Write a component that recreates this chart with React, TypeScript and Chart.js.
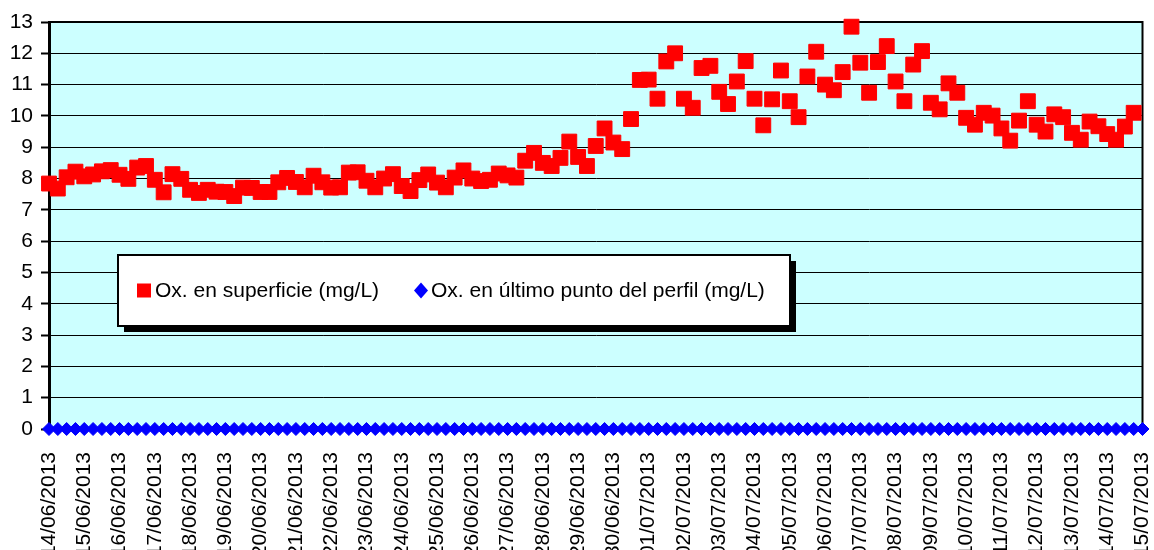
import React, { useEffect, useRef } from 'react';
import { Chart, registerables } from 'chart.js';

Chart.register(...registerables);

// Tick labels (one every 4 samples)
const dates = [
  '14/06/2013', '15/06/2013', '16/06/2013', '17/06/2013', '18/06/2013', '19/06/2013',
  '20/06/2013', '21/06/2013', '22/06/2013', '23/06/2013', '24/06/2013', '25/06/2013',
  '26/06/2013', '27/06/2013', '28/06/2013', '29/06/2013', '30/06/2013', '01/07/2013',
  '02/07/2013', '03/07/2013', '04/07/2013', '05/07/2013', '06/07/2013', '07/07/2013',
  '08/07/2013', '09/07/2013', '10/07/2013', '11/07/2013', '12/07/2013', '13/07/2013',
  '14/07/2013', '15/07/2013',
];
const samplesPerDay = 4;

const seriesSurfaceLabel = 'Ox. en superficie (mg/L)';
const seriesBottomLabel = 'Ox. en último punto del perfil (mg/L)';

// Ox. en superficie (mg/L)
const surface: (number | null)[] = [
  7.84, 7.68, 8.04, 8.22, 8.07, 8.13, 8.23, 8.27, 8.12, 7.99,
  8.35, 8.40, 7.96, 7.56, 8.14, 7.99, 7.64, 7.54, 7.64, 7.58,
  7.57, 7.44, 7.71, 7.70, 7.57, 7.57, 7.88, 8.02, 7.89, 7.72,
  8.09, 7.88, 7.71, 7.72, 8.19, 8.20, 7.93, 7.72, 8.00, 8.14,
  7.76, 7.60, 7.95, 8.13, 7.87, 7.72, 8.03, 8.26, 8.00, 7.92,
  7.96, 8.16, 8.10, 8.03, 8.57, 8.82, 8.50, 8.40, 8.66, 9.18,
  8.69, 8.40, 9.04, 9.60, 9.15, 8.94, 9.90, 11.15, 11.16, 10.55,
  11.74, 12.00, 10.55, 10.26, 11.53, 11.60, 10.77, 10.38, 11.10, 11.75,
  10.55, 9.70, 10.53, 11.45, 10.47, 9.96, 11.26, 12.05, 11.00, 10.82,
  11.40, 12.85, 11.70, 10.74, 11.72, 12.23, 11.10, 10.47, 11.64, 12.07,
  10.42, 10.21, 11.04, 10.74, 9.94, 9.72, 10.10, 10.01, 9.60, 9.21,
  9.85, 10.47, 9.72, 9.50, 10.05, 9.96, 9.46, 9.24, 9.82, 9.67,
  9.42, 9.24, 9.66, 10.10, null,
];

// Ox. en último punto del perfil (mg/L)
const bottom: number[] = [
  0, 0, 0, 0, 0, 0, 0, 0, 0, 0, 0, 0, 0, 0, 0, 0, 0, 0, 0, 0, 0, 0, 0, 0, 0,
  0, 0, 0, 0, 0, 0, 0, 0, 0, 0, 0, 0, 0, 0, 0, 0, 0, 0, 0, 0, 0, 0, 0, 0, 0,
  0, 0, 0, 0, 0, 0, 0, 0, 0, 0, 0, 0, 0, 0, 0, 0, 0, 0, 0, 0, 0, 0, 0, 0, 0,
  0, 0, 0, 0, 0, 0, 0, 0, 0, 0, 0, 0, 0, 0, 0, 0, 0, 0, 0, 0, 0, 0, 0, 0, 0,
  0, 0, 0, 0, 0, 0, 0, 0, 0, 0, 0, 0, 0, 0, 0, 0, 0, 0, 0, 0, 0, 0, 0, 0, 0,
];

const yMin = 0;
const yMax = 13;
const yStep = 1;

// category labels: each date followed by blank slots for the intermediate samples
const categories: string[] = [];
dates.forEach((d, i) => {
  categories.push(d);
  if (i < dates.length - 1) {
    for (let k = 1; k < samplesPerDay; k++) categories.push('');
  }
});

const FONT = "'Liberation Sans', Arial, sans-serif";
const FONT_SIZE = 21;

const plotStylePlugin = {
  id: 'plotStyle',
  beforeDraw(chart: any) {
    const { ctx, chartArea } = chart;
    ctx.save();
    ctx.fillStyle = '#CCFFFF';
    ctx.fillRect(chartArea.left, chartArea.top, chartArea.right - chartArea.left, chartArea.bottom - chartArea.top);
    ctx.restore();
  },
  beforeDatasetsDraw(chart: any) {
    const { ctx, chartArea } = chart;
    ctx.save();
    ctx.strokeStyle = '#000000';
    ctx.lineWidth = 2;
    ctx.beginPath();
    ctx.moveTo(chartArea.left, chartArea.top);
    ctx.lineTo(chartArea.right, chartArea.top);
    ctx.lineTo(chartArea.right, chartArea.bottom);
    ctx.stroke();
    ctx.restore();
  },
};

const boxLegendPlugin = {
  id: 'boxLegend',
  afterDraw(chart: any, _args: any, opts: any) {
    const { ctx } = chart;
    const { x, y, w, h, shadow } = opts;
    ctx.save();
    ctx.fillStyle = '#000000';
    ctx.fillRect(x + shadow, y + shadow, w, h);
    ctx.fillStyle = '#FFFFFF';
    ctx.fillRect(x, y, w, h);
    ctx.strokeStyle = '#000000';
    ctx.lineWidth = 2;
    ctx.strokeRect(x, y, w, h);

    const cy = y + h / 2;
    ctx.font = `${FONT_SIZE}px ${FONT}`;
    ctx.textBaseline = 'middle';
    ctx.fillStyle = '#000000';
    const ds = chart.data.datasets;
    const items = opts.items as { mx: number; tx: number }[];
    ds.forEach((d: any, i: number) => {
      const it = items[i];
      ctx.fillStyle = d.backgroundColor;
      if (d.pointStyle === 'rect') {
        ctx.fillRect(it.mx - 7, cy - 7, 14, 14);
      } else {
        ctx.beginPath();
        ctx.moveTo(it.mx, cy - 8);
        ctx.lineTo(it.mx + 7, cy);
        ctx.lineTo(it.mx, cy + 8);
        ctx.lineTo(it.mx - 7, cy);
        ctx.closePath();
        ctx.fill();
      }
      ctx.fillStyle = '#000000';
      ctx.fillText(d.label, it.tx, cy + 1);
    });
    ctx.restore();
  },
};

export default function App() {
  const ref = useRef<HTMLCanvasElement | null>(null);

  useEffect(() => {
    document.body.style.margin = '0';
    const canvas = ref.current;
    if (!canvas) return;
    const chart = new Chart(canvas, {
      type: 'line',
      data: {
        labels: categories,
        datasets: [
          {
            label: seriesSurfaceLabel,
            data: surface,
            showLine: false,
            pointStyle: 'rect',
            pointRadius: 10.5,
            pointBorderWidth: 1,
            backgroundColor: '#FF0000',
            borderColor: '#FF0000',
            clip: false,
          },
          {
            label: seriesBottomLabel,
            data: bottom,
            showLine: false,
            pointStyle: 'rectRot',
            pointRadius: 6.5,
            pointBorderWidth: 1,
            backgroundColor: '#0000FF',
            borderColor: '#0000FF',
            clip: false,
          },
        ],
      },
      options: {
        responsive: false,
        animation: false,
        events: [],
        layout: { padding: { left: 0, right: 8, top: 22, bottom: 0 } },
        plugins: {
          legend: { display: false },
          tooltip: { enabled: false },
          boxLegend: {
            x: 118, y: 255, w: 672, h: 71, shadow: 6,
            items: [ { mx: 144, tx: 155 }, { mx: 421, tx: 431 } ],
          },
        } as any,
        scales: {
          x: {
            type: 'category',
            offset: false,
            grid: { display: false },
            border: { display: true, color: '#000000', width: 2 },
            ticks: {
              autoSkip: false,
              maxRotation: 90,
              minRotation: 90,
              padding: 15,
              color: '#000000',
              font: { family: FONT, size: FONT_SIZE },
              callback: (_v: any, i: number) => categories[i],
            },
            afterFit: (s: any) => {
              s.height = 121;
              s.paddingLeft = 0;
              s.paddingRight = 0;
            },
          },
          y: {
            min: yMin,
            max: yMax,
            grid: { color: '#000000', lineWidth: 1, tickLength: 8, tickWidth: 2, drawTicks: true },
            border: { display: true, color: '#000000', width: 3 },
            ticks: {
              stepSize: yStep,
              padding: 8,
              color: '#000000',
              font: { family: FONT, size: FONT_SIZE },
            },
            afterFit: (s: any) => {
              s.width = 49;
              s.paddingTop = 0;
              s.paddingBottom = 0;
            },
          },
        },
      },
      plugins: [plotStylePlugin, boxLegendPlugin],
    });
    return () => chart.destroy();
  }, []);

  return <canvas ref={ref} width={1154} height={550} style={{ display: 'block', width: 1154, height: 550 }} />;
}
